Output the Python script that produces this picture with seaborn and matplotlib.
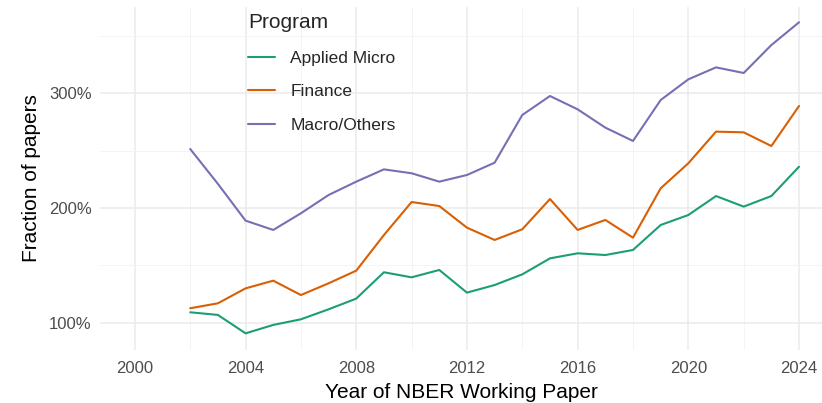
import matplotlib
matplotlib.use("Agg")
import matplotlib.pyplot as plt
import matplotlib.ticker as mticker
import seaborn as sns
import pandas as pd

# Datos (porcentajes)
years = list(range(2002, 2025))
applied_micro = [109.3, 107.0, 91.0, 98.3, 103.2, 111.9, 121.2, 144.1, 139.7, 146.1,
                 126.4, 133.0, 142.3, 156.2, 160.6, 159.1, 163.5, 185.2, 193.9, 210.4,
                 201.2, 210.4, 235.9]
finance = [112.8, 117.1, 130.1, 136.8, 124.3, 134.5, 145.5, 176.5, 205.2, 201.7,
           182.9, 172.2, 181.5, 207.8, 180.9, 189.6, 174.2, 217.1, 238.9, 266.4,
           265.8, 253.9, 288.7]
macro_others = [251.3, 221.0, 189.0, 180.9, 195.4, 211.3, 222.9, 233.6, 230.2, 222.9,
                228.7, 239.4, 280.9, 297.4, 285.8, 269.9, 258.3, 293.9, 311.9, 322.3,
                317.4, 341.7, 361.5]
programs = ["Applied Micro", "Finance", "Macro/Others"]
colores = ["#1B9E77", "#D95F02", "#7570B3"]

df = pd.DataFrame({
    "year": years * 3,
    "value": applied_micro + finance + macro_others,
    "Program": [p for p in programs for _ in years],
})

sns.set_theme(style="whitegrid")
plt.rcParams["font.family"] = ["Liberation Sans", "DejaVu Sans"]

fig = plt.figure(figsize=(8.22, 4.03), dpi=100)
ax = fig.add_axes([100 / 822, 53 / 403, 722 / 822, 343 / 403])

sns.lineplot(data=df, x="year", y="value", hue="Program", hue_order=programs,
             palette=colores, linewidth=1.5, ax=ax)

ax.set_xlim(1998.74, 2024.83)
ax.set_ylim(76.5, 374.8)
ax.xaxis.set_major_locator(mticker.MultipleLocator(4))
ax.xaxis.set_minor_locator(mticker.MultipleLocator(2))
ax.yaxis.set_major_locator(mticker.FixedLocator([100, 200, 300]))
ax.yaxis.set_minor_locator(mticker.FixedLocator([150, 250, 350]))
ax.yaxis.set_major_formatter(mticker.FuncFormatter(lambda v, _: f"{v:.0f}%"))

ax.set_facecolor("white")
for s in ax.spines.values():
    s.set_visible(False)
ax.grid(which="major", color="#EBEBEB", linewidth=1.1)
ax.grid(which="minor", color="#F2F2F2", linewidth=0.6)
ax.set_axisbelow(True)
ax.tick_params(which="both", length=0, labelsize=12, labelcolor="#4D4D4D")
ax.tick_params(axis="x", pad=8)
ax.tick_params(axis="y", pad=6)

ax.set_xlabel("Year of NBER Working Paper", fontsize=15, color="black", labelpad=5)
ax.set_ylabel("Fraction of papers", fontsize=15, color="black", labelpad=6)

leg = ax.legend(title="Program", loc="upper left", bbox_to_anchor=(0.183, 1.028),
                frameon=False, fontsize=12.5, title_fontsize=15,
                handlelength=1.55, handletextpad=0.9, labelspacing=1.07)
leg._legend_box.align = "left"

fig.savefig("out.png", dpi=100, facecolor="white")
